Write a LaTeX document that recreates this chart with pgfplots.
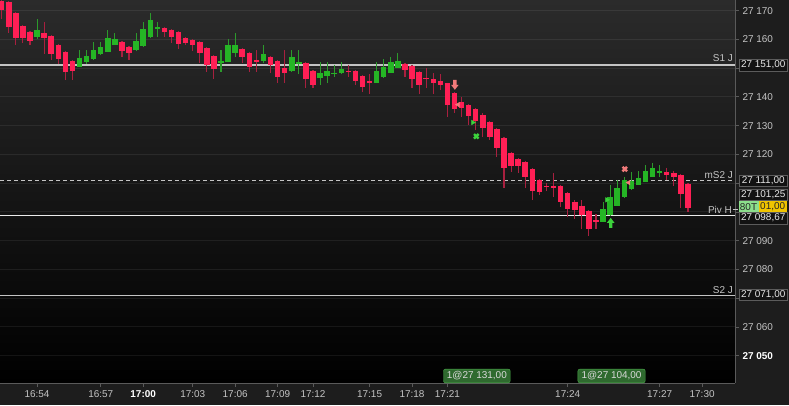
\documentclass[border=0pt]{standalone}
\usepackage{pgfplots}
\pgfplotsset{compat=1.18}
\usepackage{pgfplotstable}
\usepackage{fontspec}
\setmainfont{Liberation Sans}
\definecolor{panel}{HTML}{1D1D1D}
\definecolor{bgtop}{HTML}{2B2B2B}
\definecolor{axisgrey}{HTML}{5A5A5A}
\definecolor{ticktext}{HTML}{C4C4C4}
\definecolor{redbody}{HTML}{FF1F55}
\definecolor{redwick}{HTML}{A8203F}
\definecolor{greenbody}{HTML}{25B525}
\definecolor{greenwick}{HTML}{2C9A2C}
\definecolor{levelgrey}{HTML}{C4C4C4}
\definecolor{pinkm}{HTML}{F07A7A}
\definecolor{greenm}{HTML}{3CD23C}
\definecolor{boxfill}{HTML}{121212}
\definecolor{boxdraw}{HTML}{5C5C5C}
\definecolor{ordfill}{HTML}{2F6A2F}
\definecolor{orddraw}{HTML}{4CAF4C}

\pgfdeclareplotmark{darrow}{%
  \pgfpathmoveto{\pgfqpoint{-1.7bp}{5bp}}%
  \pgfpathlineto{\pgfqpoint{1.7bp}{5bp}}%
  \pgfpathlineto{\pgfqpoint{1.7bp}{0bp}}%
  \pgfpathlineto{\pgfqpoint{3.8bp}{0bp}}%
  \pgfpathlineto{\pgfqpoint{0bp}{-5bp}}%
  \pgfpathlineto{\pgfqpoint{-3.8bp}{0bp}}%
  \pgfpathlineto{\pgfqpoint{-1.7bp}{0bp}}%
  \pgfpathclose\pgfusepathqfill}
\pgfdeclareplotmark{uarrow}{%
  \pgfpathmoveto{\pgfqpoint{-1.7bp}{-5bp}}%
  \pgfpathlineto{\pgfqpoint{1.7bp}{-5bp}}%
  \pgfpathlineto{\pgfqpoint{1.7bp}{0bp}}%
  \pgfpathlineto{\pgfqpoint{3.8bp}{0bp}}%
  \pgfpathlineto{\pgfqpoint{0bp}{5bp}}%
  \pgfpathlineto{\pgfqpoint{-3.8bp}{0bp}}%
  \pgfpathlineto{\pgfqpoint{-1.7bp}{0bp}}%
  \pgfpathclose\pgfusepathqfill}

\pgfplotstableread{
i o h l c
0 27173.5 27174.0 27167.0 27170.2
1 27173.1 27173.5 27162.1 27164.4
2 27169.1 27169.5 27158.1 27160.6
3 27164.8 27165.0 27158.9 27160.6
4 27162.6 27163.0 27158.1 27159.4
6 27162.1 27165.9 27154.9 27160.6
7 27161.2 27161.5 27152.8 27154.9
8 27158.2 27158.5 27151.4 27153.2
9 27155.7 27156.0 27145.9 27148.8
10 27152.5 27152.8 27145.9 27149.1
17 27159.0 27159.3 27153.8 27156.1
18 27157.5 27157.8 27152.8 27155.2
23 27164.0 27164.3 27160.7 27162.7
24 27163.4 27163.7 27158.6 27160.8
25 27162.5 27162.8 27156.8 27158.3
26 27160.4 27160.7 27158.1 27158.9
27 27159.8 27160.0 27156.0 27158.1
28 27159.0 27159.3 27151.9 27155.2
29 27156.9 27157.2 27148.8 27151.1
30 27154.2 27154.5 27146.1 27149.6
34 27156.7 27157.0 27151.7 27153.8
35 27155.2 27155.5 27148.8 27150.3
36 27152.8 27156.3 27148.8 27152.3
38 27153.8 27154.1 27148.2 27151.1
39 27152.6 27152.9 27145.0 27146.8
40 27149.9 27156.3 27145.0 27148.4
43 27151.9 27152.2 27143.0 27146.1
44 27149.1 27149.4 27143.0 27144.1
49 27149.0 27151.1 27146.8 27148.8
50 27149.0 27149.3 27144.0 27145.7
51 27147.3 27147.6 27141.8 27143.6
52 27145.7 27148.0 27141.0 27144.7
57 27151.4 27151.7 27146.8 27149.4
58 27150.8 27151.1 27143.0 27146.1
59 27148.8 27149.1 27141.0 27144.1
60 27146.5 27149.9 27143.0 27146.1
61 27146.1 27148.2 27141.0 27145.0
62 27145.5 27148.0 27142.4 27144.1
63 27144.7 27145.0 27133.1 27137.2
64 27141.3 27141.6 27134.3 27135.7
65 27138.3 27140.1 27132.9 27136.0
66 27137.2 27137.5 27130.2 27133.4
67 27135.7 27136.0 27128.5 27131.7
68 27133.7 27134.3 27126.0 27129.3
69 27131.4 27131.7 27125.0 27126.2
70 27128.9 27129.2 27119.2 27122.1
71 27125.6 27125.9 27108.2 27115.4
72 27120.6 27120.9 27114.0 27116.0
73 27118.4 27118.7 27113.4 27116.0
74 27117.3 27117.6 27108.2 27112.3
75 27115.0 27115.3 27104.1 27107.4
76 27111.1 27111.4 27105.9 27107.1
77 27109.0 27110.2 27107.1 27108.7
78 27109.0 27113.4 27105.3 27108.2
79 27109.0 27109.3 27101.8 27103.6
80 27106.5 27106.8 27098.4 27100.9
81 27103.6 27104.2 27097.5 27100.7
82 27102.2 27104.2 27094.2 27098.9
83 27100.4 27100.7 27091.6 27094.2
84 27097.2 27099.3 27094.0 27096.6
94 27113.8 27115.4 27111.1 27112.8
95 27113.4 27114.4 27109.0 27112.0
96 27112.8 27113.1 27101.3 27106.1
97 27109.6 27109.9 27100.1 27101.3
}\redtab

\pgfplotstableread{
i o h l c
5 27161.0 27167.1 27160.0 27163.2
11 27150.5 27156.3 27150.4 27153.7
12 27152.1 27156.3 27151.3 27154.2
13 27153.1 27159.1 27153.0 27156.3
14 27154.8 27159.1 27154.5 27157.4
15 27155.7 27163.3 27155.5 27160.4
16 27158.1 27162.1 27158.0 27160.0
19 27156.3 27162.1 27156.0 27159.4
20 27157.7 27165.9 27157.5 27163.6
21 27160.7 27169.1 27160.5 27166.8
22 27163.5 27165.9 27160.7 27164.2
31 27151.9 27156.3 27148.8 27152.6
32 27152.3 27160.1 27152.0 27158.1
33 27155.2 27162.1 27153.8 27158.1
37 27152.5 27158.1 27151.9 27154.8
41 27149.1 27156.3 27148.8 27153.8
42 27151.4 27156.3 27148.0 27152.1
45 27146.7 27152.0 27144.1 27148.2
46 27147.3 27152.0 27145.0 27149.0
47 27148.2 27151.1 27146.8 27148.4
48 27148.2 27152.0 27148.0 27149.6
53 27145.0 27152.0 27144.8 27149.0
54 27146.8 27153.1 27146.6 27150.3
55 27148.4 27154.0 27148.2 27152.0
56 27150.2 27155.2 27150.0 27152.6
85 27096.6 27103.6 27096.4 27101.0
86 27098.9 27109.4 27098.7 27105.3
87 27102.1 27111.1 27101.9 27108.4
88 27105.1 27112.3 27104.9 27111.1
89 27107.9 27114.0 27107.7 27110.8
90 27109.4 27114.2 27109.2 27111.7
91 27110.5 27116.3 27110.3 27114.2
92 27112.3 27117.1 27112.1 27115.4
93 27113.9 27116.3 27112.0 27114.1
}\greentab

\pgfplotsset{candle/.style 2 args={only marks, mark=*, mark size=0pt, mark options={draw=none, fill=none},
  error bars/.cd, y dir=minus, y explicit, error mark=none,
  error bar style={draw=#1, solid, line width=#2}}}

\begin{document}
\begin{tikzpicture}[x=1bp,y=1bp]
\fill[panel] (0,-22) rectangle (789,383);
\shade[top color=bgtop, bottom color=black] (0,0) rectangle (735,383);
\begin{axis}[
  at={(0,0)}, anchor=south west,
  scale only axis, width=735bp, height=383bp,
  xmin=-0.24, xmax=103.65, ymin=27040.5, ymax=27173.7,
  axis x line*=bottom, axis y line*=right,
  axis line style={draw=axisgrey, line width=1bp, -},
  tick align=outside, major tick length=4bp,
  tick style={draw=axisgrey, line width=0.8bp},
  ytick={27050,27060,27070,27080,27090,27100,27110,27120,27130,27140,27150,27160,27170},
  yticklabels={\textcolor{white}{\textbf{27 050}},27 060,,27 080,27 090,,,27 120,27 130,27 140,,27 160,27 170},
  ymajorgrids, grid style={draw=white, opacity=0.07, line width=1bp},
  xtick={5,14,20,27,33,39,44,52,58,63,80,93,99},
  xticklabels={16:54,16:57,\textcolor{white}{\textbf{17:00}},17:03,17:06,17:09,17:12,17:15,17:18,17:21,17:24,17:27,17:30},
  ticklabel style={font=\fontsize{10}{12}\selectfont, text=ticktext},
  scaled y ticks=false,
]
% level lines
\addplot[levelgrey, line width=2bp] coordinates {(-0.24,27151) (103.65,27151)};
\addplot[levelgrey, line width=1bp, dash pattern=on 4bp off 3bp] coordinates {(-0.24,27111) (103.65,27111)};
\addplot[white!92!black, line width=1.5bp] coordinates {(-0.24,27098.67) (103.65,27098.67)};
\addplot[levelgrey, line width=1.5bp] coordinates {(-0.24,27071) (103.65,27071)};
% wicks
\addplot[candle={redwick}{1.1bp}]
  table[x=i, y=h, y error minus expr={\thisrow{h}-\thisrow{l}}] \redtab;
\addplot[candle={greenwick}{1.1bp}]
  table[x=i, y=h, y error minus expr={\thisrow{h}-\thisrow{l}}] \greentab;
% bodies
\addplot[candle={redbody}{5.5bp}]
  table[x=i, y expr={max(\thisrow{o},\thisrow{c})}, y error minus expr={max(abs(\thisrow{o}-\thisrow{c}),0.45)}] \redtab;
\addplot[candle={greenbody}{5.5bp}]
  table[x=i, y expr={max(\thisrow{o},\thisrow{c})}, y error minus expr={max(abs(\thisrow{o}-\thisrow{c}),0.45)}] \greentab;
% signal marks
\addplot[only marks, mark=darrow, color=pinkm] coordinates {(64.05,27144.2)};
\addplot[only marks, mark=uarrow, color=greenm] coordinates {(86.08,27096.2)};
\addplot[only marks, mark=x, mark size=3.2bp, color=pinkm, line width=2.4bp] coordinates {(88.07,27114.9)};
\addplot[only marks, mark=x, mark size=3.2bp, color=greenm, line width=2.4bp] coordinates {(67.08,27126.3)};
\addplot[only marks, mark=triangle*, mark size=2.6bp, color=pinkm, mark options={rotate=90}] coordinates {(64.5,27137.3) (88.62,27110.2)};
\addplot[only marks, mark=triangle*, mark size=2.6bp, color=greenm, mark options={rotate=-90}] coordinates {(66.6,27131.1) (85.55,27104.2)};
\end{axis}
% level labels
\begin{scope}[every node/.style={font=\fontsize{10}{12}\selectfont, text=levelgrey, inner sep=0pt}]
\node[anchor=base east] at (733,321.3) {S1 J};
\node[anchor=base east] at (733,205) {mS2 J};
\node[anchor=base east] at (732,169.7) {Piv H};
\node[anchor=base east] at (733,89.7) {S2 J};
\end{scope}
\draw[levelgrey, line width=0.8bp] (732.5,173.5) -- (738,173.5);
% price boxes
\begin{scope}[every node/.style={font=\fontsize{10}{12}\selectfont, inner sep=0pt, minimum height=11.5bp, anchor=west}]
\node[draw=boxdraw, fill=boxfill, text=white!90!black, minimum width=48bp] at (739,318) {27 151,00};
\node[draw=boxdraw, fill=boxfill, text=white!90!black, minimum width=48bp] at (739,202.5) {27 111,00};
\node[draw=boxdraw, fill=boxfill, text=white!90!black, minimum width=48bp] at (739,188.3) {27 101,25};
\node[draw=boxdraw, fill=boxfill, text=white!90!black, minimum width=48bp] at (739,165) {27 098,67};
\node[fill={rgb,255:red,140;green,222;blue,140}, text=black!85, minimum width=20bp, minimum height=10.5bp] at (738.3,176.3) {80T};
\node[fill={rgb,255:red,240;green,196;blue,0}, text=black!85, minimum width=28.4bp, minimum height=10.5bp] at (758.3,176.3) {01,00};
\node[draw=boxdraw, fill=boxfill, text=white!90!black, minimum width=48bp] at (739,88.3) {27 071,00};
\end{scope}
% order labels
\begin{scope}[every node/.style={font=\fontsize{10}{12}\selectfont, inner sep=0pt, anchor=south west, draw=orddraw, fill=ordfill, text=white!85!black, rounded corners=2bp, minimum height=13.7bp}]
\node[minimum width=66.7bp] at (443.3,0) {1@27 131,00};
\node[minimum width=67.3bp] at (577.7,0) {1@27 104,00};
\end{scope}
\pgfresetboundingbox
\path[use as bounding box] (0,-22) rectangle (789,383);
\end{tikzpicture}
\end{document}
